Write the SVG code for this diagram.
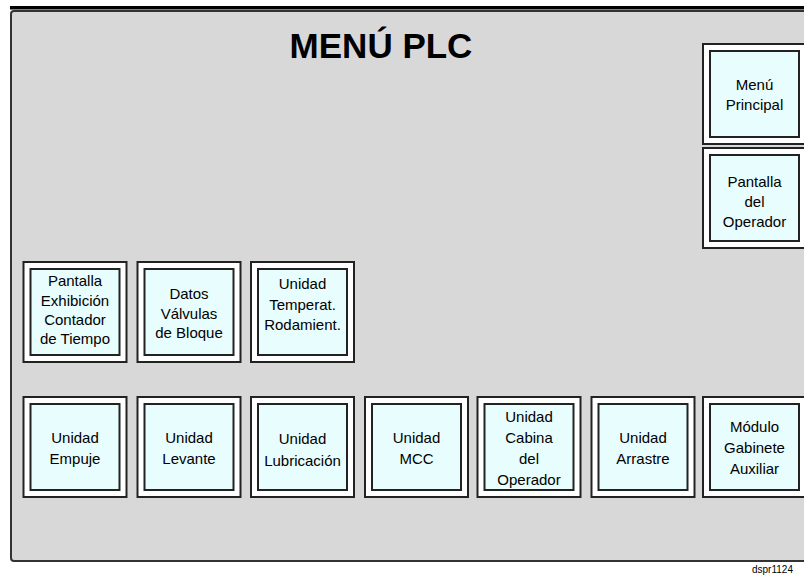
<svg xmlns="http://www.w3.org/2000/svg" width="804" height="575" viewBox="0 0 804 575">
<style>
.o{fill:#ffffff;stroke:#222;stroke-width:2}
.i{fill:#e8fdfd;stroke:#222;stroke-width:2}
.t{font-family:"Liberation Sans",Arial,sans-serif;font-size:15px;fill:#000;text-anchor:middle}
.title{font-family:"Liberation Sans",Arial,sans-serif;font-size:35px;font-weight:bold;fill:#000;text-anchor:middle}
.small{font-family:"Liberation Sans",Arial,sans-serif;font-size:10px;fill:#000}
</style>
<defs>
<g id="box">
<rect class="o" x="0" y="0" width="103" height="100"/>
<rect class="i" x="7" y="7" width="89" height="86"/>
</g>
</defs>
<rect x="0" y="0" width="804" height="575" fill="#ffffff"/>
<g id="panel">
<path d="M820,11 L14,11 Q11,11 11,14 L11,558 Q11,561 14,561 L820,561" fill="#d8d8d8" stroke="#333" stroke-width="2"/>
<rect x="10" y="6" width="800" height="3.5" fill="#000"/>
<text class="title" x="381" y="58">MENÚ PLC</text>
</g>
<g id="connectors"></g>
<g id="menu-principal">
<use href="#box" x="703" y="44"/>
<text class="t" x="754.5" y="90">Menú</text>
<text class="t" x="754.5" y="110">Principal</text>
</g>
<g id="pantalla-operador">
<use href="#box" x="703" y="148"/>
<text class="t" x="754.5" y="187">Pantalla</text>
<text class="t" x="754.5" y="207">del</text>
<text class="t" x="754.5" y="227">Operador</text>
</g>
<g id="pantalla-exhibicion">
<use href="#box" x="23.5" y="262"/>
<text class="t" x="75" y="286">Pantalla</text>
<text class="t" x="75" y="305.5">Exhibición</text>
<text class="t" x="75" y="325">Contador</text>
<text class="t" x="75" y="344">de Tiempo</text>
</g>
<g id="datos-valvulas">
<use href="#box" x="137.5" y="262"/>
<text class="t" x="189" y="299">Datos</text>
<text class="t" x="189" y="318.5">Válvulas</text>
<text class="t" x="189" y="338">de Bloque</text>
</g>
<g id="unidad-temperat">
<use href="#box" x="251" y="262"/>
<text class="t" x="302.5" y="289">Unidad</text>
<text class="t" x="302.5" y="309.5">Temperat.</text>
<text class="t" x="302.5" y="330">Rodamient.</text>
</g>
<g id="unidad-empuje">
<use href="#box" x="23.5" y="397"/>
<text class="t" x="75" y="443">Unidad</text>
<text class="t" x="75" y="464">Empuje</text>
</g>
<g id="unidad-levante">
<use href="#box" x="137.5" y="397"/>
<text class="t" x="189" y="443">Unidad</text>
<text class="t" x="189" y="464">Levante</text>
</g>
<g id="unidad-lubricacion">
<use href="#box" x="251" y="397"/>
<text class="t" x="302.5" y="444">Unidad</text>
<text class="t" x="302.5" y="466">Lubricación</text>
</g>
<g id="unidad-mcc">
<use href="#box" x="365" y="397"/>
<text class="t" x="416.5" y="443">Unidad</text>
<text class="t" x="416.5" y="464">MCC</text>
</g>
<g id="unidad-cabina">
<use href="#box" x="477.5" y="397"/>
<text class="t" x="529" y="422">Unidad</text>
<text class="t" x="529" y="443">Cabina</text>
<text class="t" x="529" y="464">del</text>
<text class="t" x="529" y="484.5">Operador</text>
</g>
<g id="unidad-arrastre">
<use href="#box" x="591.5" y="397"/>
<text class="t" x="643" y="443">Unidad</text>
<text class="t" x="643" y="464">Arrastre</text>
</g>
<g id="modulo-gabinete">
<use href="#box" x="703" y="397"/>
<text class="t" x="754.5" y="432">Módulo</text>
<text class="t" x="754.5" y="453">Gabinete</text>
<text class="t" x="754.5" y="473.5">Auxiliar</text>
</g>
<text class="small" x="752" y="573">dspr1124</text>
</svg>
